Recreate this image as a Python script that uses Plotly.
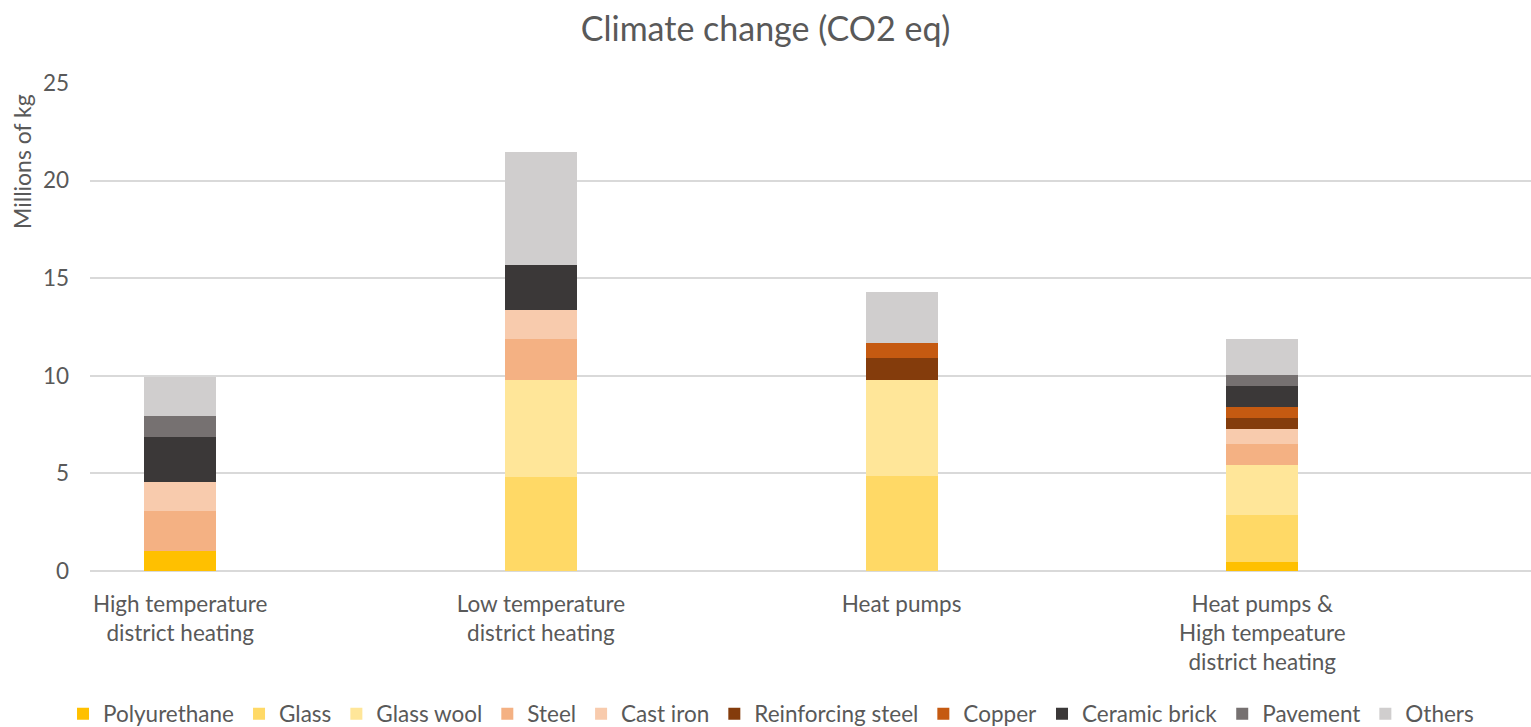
import plotly.graph_objects as go

# Scenarios on the x axis
categories = [
    "High temperature<br>district heating",
    "Low temperature<br>district heating",
    "Heat pumps",
    "Heat pumps &<br>High tempeature<br>district heating",
]

# Emissions per material, millions of kg CO2 eq (one value per scenario)
materials = ["Polyurethane", "Glass", "Glass wool", "Steel", "Cast iron",
             "Reinforcing steel", "Copper", "Ceramic brick", "Pavement", "Others"]
polyurethane = [1.00, 0.00, 0.00, 0.44]
glass = [0.00, 4.84, 4.86, 2.44]
glass_wool = [0.00, 4.97, 4.94, 2.56]
steel = [2.05, 2.07, 0.00, 1.09]
cast_iron = [1.50, 1.48, 0.00, 0.74]
reinforcing_steel = [0.00, 0.00, 1.12, 0.58]
copper = [0.00, 0.00, 0.75, 0.56]
ceramic_brick = [2.34, 2.34, 0.00, 1.08]
pavement = [1.06, 0.00, 0.00, 0.53]
others = [1.98, 5.75, 2.63, 1.86]

series = [polyurethane, glass, glass_wool, steel, cast_iron,
          reinforcing_steel, copper, ceramic_brick, pavement, others]
colors = ["#FFC000", "#FFD966", "#FFE699", "#F4B183", "#F8CBAD",
          "#843C0C", "#C55A11", "#3B3838", "#767171", "#D0CECE"]

y_ticks = [0, 5, 10, 15, 20, 25]

FONT = "Lato"
TEXT = "#595959"
SIZE = 22.5

fig = go.Figure()
x_pos = list(range(len(categories)))
for name, vals, col in zip(materials, series, colors):
    fig.add_trace(go.Bar(
        x=x_pos, y=vals, name=name, width=0.2,
        marker=dict(color=col, line=dict(width=0)),
    ))

fig.update_layout(
    barmode="stack",
    width=1531, height=727,
    margin=dict(l=90, r=0, t=83, b=156, autoexpand=False),
    paper_bgcolor="white", plot_bgcolor="white",
    font=dict(family=FONT, color=TEXT, size=SIZE),
    title=dict(text="Climate change (CO2 eq)", x=0.5, xanchor="center",
               y=1 - 29 / 727, yanchor="middle", yref="container",
               font=dict(size=34, color=TEXT, family=FONT)),
    showlegend=True,
    legend=dict(orientation="h", x=0.4726, xanchor="center",
                yref="container", y=1 - 714 / 727, yanchor="middle",
                font=dict(size=SIZE, color=TEXT, family=FONT),
                itemwidth=30, traceorder="normal"),
    bargap=0,
)

fig.update_xaxes(
    tickmode="array", tickvals=x_pos, ticktext=categories,
    range=[-0.25, 3.745], showgrid=False, zeroline=False,
    showline=False, ticks="", ticklabelstandoff=17,
    tickfont=dict(size=SIZE, color=TEXT, family=FONT),
)
fig.update_yaxes(
    range=[0, 25], tickvals=y_ticks, showgrid=True,
    gridcolor="#D9D9D9", gridwidth=1.5, zeroline=True,
    zerolinecolor="#D9D9D9", zerolinewidth=1.5, showline=False,
    ticks="", ticklabelstandoff=20,
    tickfont=dict(size=SIZE, color=TEXT, family=FONT),
)

fig.add_annotation(
    text="Millions of kg", textangle=-90,
    xref="paper", yref="paper",
    x=(22 - 90) / 1441, y=(571 - 162) / 488,
    xanchor="center", yanchor="middle", showarrow=False,
    font=dict(size=23, color=TEXT, family=FONT),
)

fig.write_html("out.html")
